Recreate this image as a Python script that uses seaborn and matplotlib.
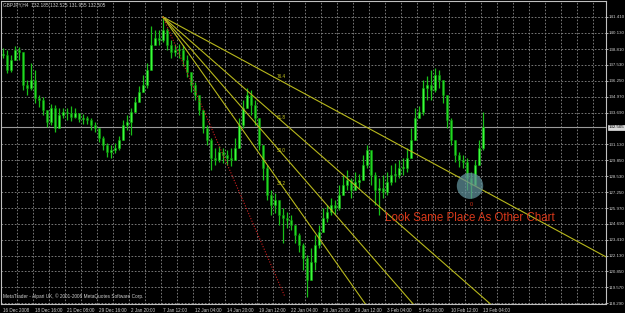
import numpy as np
import pandas as pd
import matplotlib
matplotlib.use("Agg")
import matplotlib.pyplot as plt
from matplotlib.patches import Ellipse
import seaborn as sns

# ---------------- data ----------------
symbol_header = "GBPJPY,H4  132.185 132.525 131.955 132.505"
footer_text = "MetaTrader - Alpari UK, \u00a9 2001-2008 MetaQuotes Software Corp."
note_text = "Look Same Place As Other Chart"

closes = [138.34, 137.13, 137.94, 138.74, 138.58, 135.92, 135.67, 136.32, 134.87, 134.70,
          133.90, 132.93, 134.06, 132.44, 133.49, 133.73, 133.65, 133.33, 133.65, 133.17,
          133.25, 133.09, 132.68, 132.44, 131.63, 131.07, 130.50, 130.66, 130.83, 131.47,
          132.68, 132.93, 133.73, 134.54, 135.35, 135.92, 137.13, 139.15, 139.71, 139.55,
          140.36, 139.15, 138.58, 138.74, 138.74, 137.94, 136.97, 135.92, 135.11, 133.90,
          132.44, 131.47, 130.02, 129.86, 130.50, 130.26, 130.02, 129.86, 130.83, 132.68,
          134.06, 135.11, 134.30, 133.25, 131.07, 129.21, 127.03, 126.22, 126.62, 125.41,
          125.17, 125.01, 124.60, 123.80, 122.99, 121.94, 120.16, 121.61, 122.99, 124.04,
          125.17, 125.65, 126.22, 125.98, 127.03, 127.84, 128.24, 127.43, 128.08, 128.24,
          129.45, 130.66, 128.64, 127.43, 127.59, 127.27, 128.08, 128.64, 128.64, 129.21,
          129.21, 130.02, 131.47, 133.25, 133.73, 135.67, 135.92, 135.51, 136.72, 136.32,
          135.11, 133.09, 131.47, 130.26, 129.86, 129.69, 128.40, 127.84, 129.45, 130.83,
          132.505]
highs = [138.91, 138.74, 138.34, 139.07, 138.99, 138.34, 136.32, 137.69, 137.13, 135.11,
         134.95, 133.73, 134.38, 134.30, 134.06, 134.06, 134.06, 134.22, 134.06, 133.57,
         133.57, 133.41, 133.25, 132.93, 132.44, 131.80, 131.23, 131.07, 131.23, 131.80,
         133.09, 133.49, 134.06, 134.95, 135.84, 136.72, 137.69, 140.68, 140.36, 140.36,
         141.41, 140.52, 139.55, 139.23, 139.23, 139.15, 138.34, 136.32, 136.16, 135.11,
         133.90, 132.68, 131.63, 130.83, 130.99, 130.83, 130.66, 130.83, 131.63, 133.25,
         134.70, 135.67, 135.51, 134.70, 133.09, 131.07, 129.45, 127.43, 127.19, 126.22,
         125.98, 125.65, 125.41, 124.60, 123.96, 123.15, 122.18, 122.75, 123.80, 124.60,
         125.98, 126.22, 126.79, 126.62, 127.84, 128.64, 129.05, 128.40, 128.89, 128.72,
         130.26, 131.07, 130.66, 128.89, 128.40, 128.64, 128.89, 129.45, 129.61, 129.86,
         130.02, 130.83, 132.44, 134.06, 134.22, 136.32, 136.64, 137.13, 137.29, 137.13,
         136.16, 135.11, 133.25, 131.47, 130.50, 130.26, 130.02, 128.89, 129.86, 131.47,
         133.73]
lows = [138.10, 136.89, 136.97, 138.34, 137.94, 135.51, 135.11, 135.51, 134.46, 134.14,
        133.49, 132.52, 132.68, 132.12, 133.09, 133.25, 133.09, 133.01, 133.25, 132.93,
        132.77, 132.77, 132.28, 132.12, 131.31, 130.66, 130.10, 130.02, 130.42, 130.66,
        131.88, 132.28, 131.88, 133.73, 134.70, 135.35, 135.67, 137.77, 139.15, 139.15,
        139.39, 138.74, 138.10, 138.26, 138.10, 137.45, 136.56, 135.35, 134.70, 133.49,
        132.04, 131.07, 129.05, 129.45, 129.69, 129.61, 129.45, 129.37, 129.86, 131.07,
        132.44, 134.06, 133.49, 132.68, 130.66, 128.24, 126.62, 125.41, 125.57, 124.60,
        123.15, 124.36, 124.20, 123.15, 122.42, 120.97, 118.79, 120.32, 120.97, 122.75,
        124.20, 124.85, 125.41, 125.49, 125.82, 127.03, 127.43, 126.79, 127.43, 127.59,
        128.24, 129.21, 127.84, 126.22, 125.41, 126.79, 127.03, 127.84, 128.08, 128.40,
        128.64, 128.89, 130.26, 132.28, 133.25, 133.49, 134.70, 134.70, 135.35, 135.67,
        134.46, 132.44, 131.07, 129.69, 129.29, 129.21, 127.43, 126.79, 127.84, 129.45,
        130.66]

time_labels = ["16 Dec 2008", "18 Dec 16:00", "21 Dec 08:00", "29 Dec 16:00", "2 Jan 20:00",
               "7 Jan 12:00", "12 Jan 04:00", "14 Jan 20:00", "19 Jan 12:00", "22 Jan 04:00",
               "26 Jan 20:00", "29 Jan 12:00", "3 Feb 04:00", "5 Feb 20:00", "10 Feb 12:00",
               "13 Feb 04:00"]
price_ticks = [141.410, 140.130, 138.810, 137.530, 136.250, 134.970, 133.690, 131.130,
               129.850, 128.530, 127.250, 125.970, 124.690, 123.410, 122.130, 120.850,
               119.570, 118.290]
last_price = 132.505

# Fibonacci fan anchor points (bar index, price) and levels
fan_p1 = (40, 141.41)
fan_p2 = (70.5, 118.79)
fan_levels = [0.382, 0.5, 0.618, 0.764]
fan_labels = ["38.2", "50.0", "61.8", "76.4"]

marker_center = (116.75, 127.76)

# ---------------- style ----------------
sns.set_theme(style="dark", rc={"axes.facecolor": "black", "figure.facecolor": "black"})
plt.rcParams["font.family"] = ["Liberation Sans", "DejaVu Sans"]

W, H = 625, 313
fig = plt.figure(figsize=(W / 100, H / 100), dpi=100)
fig.patch.set_facecolor("black")
ax = fig.add_axes([1 / W, 9 / H, 605 / W, 303 / H])
ax.set_facecolor("black")

n = len(closes)
idx = np.arange(n)
df = pd.DataFrame({"i": idx, "close": closes, "high": highs, "low": lows})
df["open"] = df["close"].shift(1).fillna(df["close"].iloc[0])

XMAX = 150.75
ax.set_xlim(-0.5, XMAX)
ax.set_ylim(118.22, 142.70)

# grid
grid_kw = dict(color="#8a8a8a", lw=0.6, ls=(0, (2, 2)), zorder=0)
for p in price_ticks:
    ax.axhline(p, **grid_kw)
for k in range(1, 38):
    ax.axvline(4 * k - 0.5, **grid_kw)

# candles
up = df["close"] >= df["open"]
lo = np.minimum(df["low"], np.minimum(df["open"], df["close"]))
hi = np.maximum(df["high"], np.maximum(df["open"], df["close"]))
ax.vlines(df["i"], lo, hi, color="#18c018", lw=0.9, zorder=3)
body = (df["close"] - df["open"]).abs().clip(lower=0.06)
bottom = np.minimum(df["open"], df["close"])
ax.bar(df["i"][up], body[up], bottom=bottom[up], width=0.62,
       color="#3cff3c", edgecolor="#10a010", lw=0.4, zorder=4)
ax.bar(df["i"][~up], body[~up], bottom=bottom[~up], width=0.62,
       color="#22d822", edgecolor="#0c8a0c", lw=0.4, zorder=4)

# bid line
ax.axhline(last_price, color="#9a9a9a", lw=0.8, zorder=2)

# fib fan rays
x1, y1 = fan_p1
x2, y2 = fan_p2
for lev, lab in zip(fan_levels, fan_labels):
    py = y2 + lev * (y1 - y2)
    slope = (py - y1) / (x2 - x1)
    ray = pd.DataFrame({"x": [x1, XMAX], "y": [y1, y1 + slope * (XMAX - x1)]})
    sns.lineplot(data=ray, x="x", y="y", ax=ax, color="#b8b81c", lw=0.8, zorder=5,
                 estimator=None, sort=False)
    ax.text(x2 - 2.0, py + 0.55, lab, color="#c8c820", fontsize=3.3,
            ha="left", va="center", zorder=6)
trend = pd.DataFrame({"x": [x1, x2], "y": [y1, y2]})
sns.lineplot(data=trend, x="x", y="y", ax=ax, color="#d02020", lw=0.8,
             ls=(0, (1, 1.5)), zorder=5, estimator=None, sort=False)

# highlight circle
ax.add_patch(Ellipse(marker_center, width=6.6, height=2.1, facecolor="#5f8f98",
                     alpha=0.75, edgecolor="none", zorder=7))
ax.text(marker_center[0] + 0.3, 126.22, "0", color="#d03018", fontsize=4,
        ha="center", va="center", zorder=8)
ax.text(marker_center[0], 125.17, note_text, color="#d8381a", fontsize=8.3,
        ha="center", va="center", zorder=8)

# axes cosmetics
ax.set_xlabel("")
ax.set_ylabel("")
ax.set_xticks([])
ax.yaxis.tick_right()
ax.set_yticks(price_ticks)
ax.set_yticklabels([f"{p:.3f}" for p in price_ticks])
ax.tick_params(axis="y", right=True, length=1.2, width=0.6, pad=0.4,
               labelsize=3.15, colors="#c8c8c8", labelcolor="#d0d0d0")
for s in ax.spines.values():
    s.set_color("#c0c0c0")
    s.set_linewidth(0.8)
    s.set_visible(True)
ax.grid(False)

# price label box
ax.text(1.0 + 2.5 / W, last_price, f"{last_price:.3f}", transform=ax.get_yaxis_transform(),
        color="black", fontsize=3.15, ha="left", va="center", zorder=10,
        bbox=dict(boxstyle="square,pad=0.12", facecolor="#d8d8d8", edgecolor="#ffffff", lw=0.4),
        clip_on=False)

# time labels
for k, lab in enumerate(time_labels):
    ax.text(8 * k - 0.5 + 0.4, -0.012, lab, transform=ax.get_xaxis_transform(),
            color="#d0d0d0", fontsize=3.3, ha="left", va="top", clip_on=False)

fig.text(3 / W, 1 - 5 / H, symbol_header, color="#d0d0d0", fontsize=3.4, ha="left", va="center")
fig.text(3 / W, 1 - 296 / H, footer_text, color="#d0d0d0", fontsize=3.4, ha="left", va="center")

fig.savefig("out.png", dpi=100, facecolor="black")
